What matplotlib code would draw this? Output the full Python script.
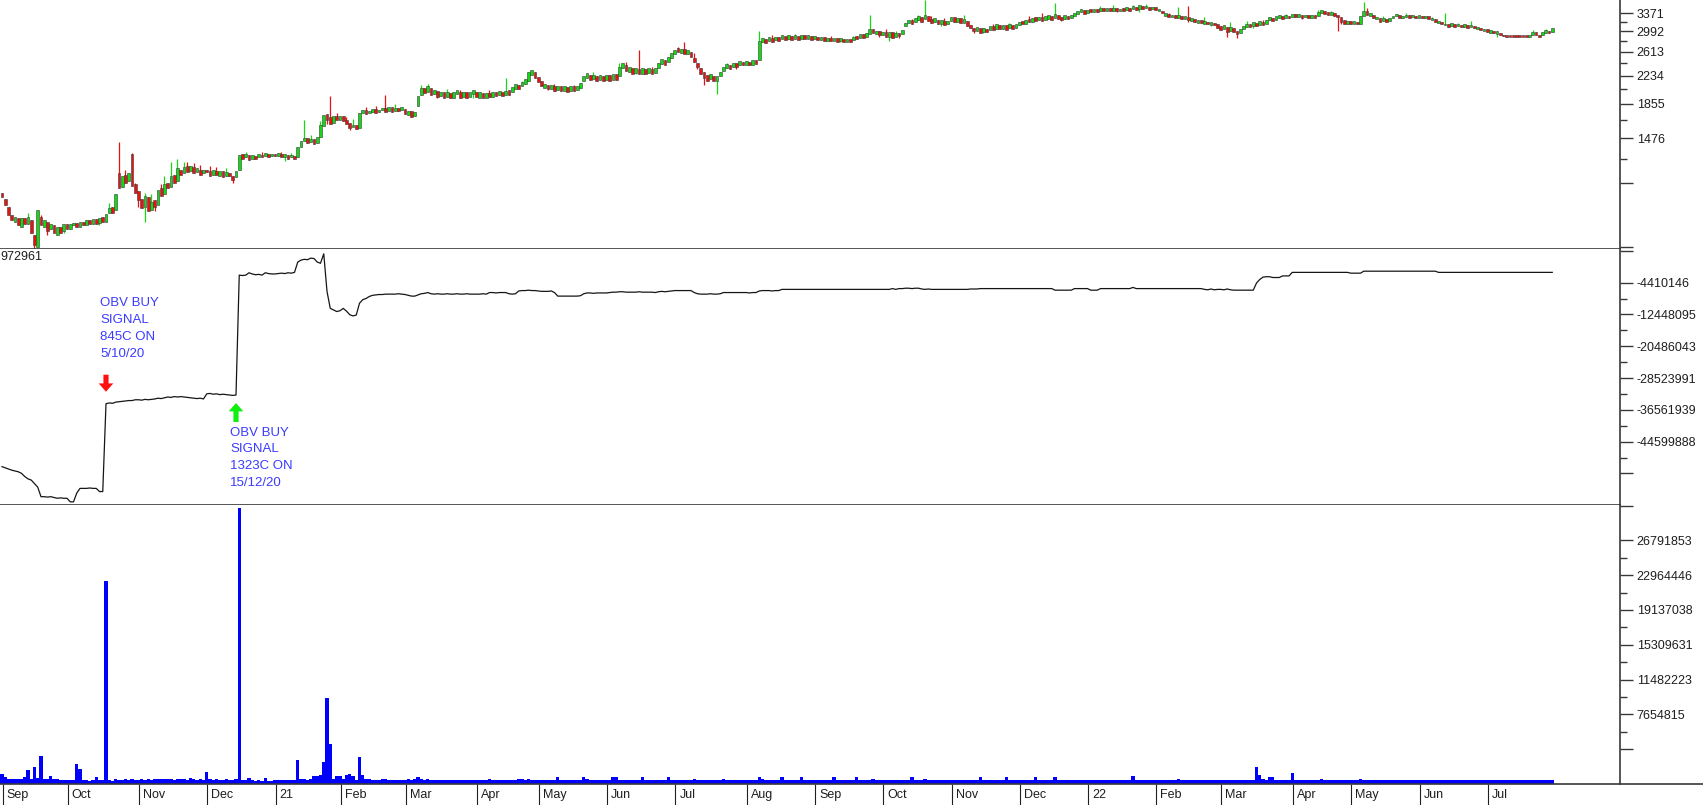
import numpy as np
import matplotlib
matplotlib.use("Agg")
import matplotlib.pyplot as plt
from matplotlib.lines import Line2D
from matplotlib.ticker import FixedLocator, FixedFormatter, NullFormatter
from matplotlib.transforms import blended_transform_factory

plt.rcParams['font.family'] = ['Liberation Sans', 'DejaVu Sans']

# ---------------- data ----------------
month_labels = ['Sep', 'Oct', 'Nov', 'Dec', '21', 'Feb', 'Mar', 'Apr', 'May', 'Jun', 'Jul', 'Aug',
                'Sep', 'Oct', 'Nov', 'Dec', '22', 'Feb', 'Mar', 'Apr', 'May', 'Jun', 'Jul']
days_in_month = [20, 22, 21, 21, 20, 20, 22, 19, 21, 21, 22, 21, 21, 21, 21, 21, 21, 20, 22, 18, 21, 21, 21]

close = [
    1000, 950, 890, 860, 880, 830, 870, 840, 880, 790, 730, 920, 830, 860, 800, 840, 790, 820, 790, 840,
    810, 840, 845, 820, 850, 830, 860, 835, 865, 840, 870, 850, 895, 930, 900, 1020, 1060, 1150, 1100, 1170, 1080, 1030,
    980, 930, 1010, 910, 970, 940, 1050, 1010, 1090, 1060, 1150, 1100, 1210, 1160, 1220, 1180, 1230, 1170, 1210, 1160, 1200,
    1180, 1150, 1200, 1160, 1190, 1140, 1180, 1150, 1120, 1190, 1323, 1290, 1330, 1280, 1320, 1290, 1330, 1300, 1340, 1300, 1330,
    1310, 1340, 1300, 1330, 1290, 1320, 1290, 1390, 1450, 1480, 1430, 1470, 1420, 1490, 1610, 1720, 1660, 1620, 1710, 1670,
    1710, 1650, 1620, 1580, 1610, 1570, 1740, 1780, 1730, 1770, 1790, 1740, 1780, 1800, 1760, 1810, 1760, 1800, 1770, 1810,
    1730, 1770, 1700, 1750, 1950, 2060, 1990, 2080, 1970, 2030, 1940, 2010, 1930, 2000, 1920, 2000, 2030, 1930, 2010, 1920, 2000, 2030,
    1940, 2000, 1930, 1990, 1940, 2000, 1950, 2020, 1950, 2020, 1970, 2070, 2110, 2040, 2140, 2180, 2280, 2320, 2200,
    2140, 2090, 2110, 2040, 2100, 2020, 2080, 2020, 2080, 2010, 2080, 2020, 2090, 2120, 2230, 2270, 2170, 2240, 2160, 2240, 2160,
    2240, 2160, 2250, 2170, 2370, 2420, 2300, 2360, 2260, 2350, 2250, 2340, 2250, 2350, 2250, 2340, 2430, 2490, 2400, 2520, 2600,
    2650, 2610, 2660, 2580, 2640, 2520, 2440, 2360, 2260, 2200, 2160, 2250, 2150, 2230, 2290, 2370, 2410, 2330, 2430, 2370, 2460, 2390,
    2460, 2390, 2470, 2410, 2800, 2860, 2770, 2880, 2790, 2890, 2810, 2910, 2830, 2920, 2830, 2910, 2830, 2920, 2840, 2910, 2830,
    2900, 2820, 2880, 2810, 2870, 2800, 2870, 2790, 2860, 2780, 2850, 2790, 2890, 2850, 2930, 2860, 2950, 3040, 2950, 3000, 2910,
    2980, 2890, 2970, 2870, 2960, 2900, 3010, 3170, 3230, 3140, 3270, 3300, 3190, 3330, 3200, 3170, 3260, 3150, 3230, 3120, 3210,
    3290, 3180, 3270, 3160, 3240, 3100, 3050, 2990, 3070, 2960, 3060, 2970, 3100, 3010, 3130, 3030, 3120, 3020, 3140, 3040, 3140,
    3190, 3140, 3230, 3180, 3270, 3210, 3290, 3200, 3300, 3330, 3230, 3350, 3240, 3220, 3330, 3250, 3340, 3370, 3430, 3460, 3350,
    3450, 3400, 3470, 3400, 3490, 3410, 3490, 3430, 3480, 3420, 3470, 3420, 3510, 3430, 3540, 3450, 3550, 3460, 3540, 3450, 3520,
    3440, 3470, 3370, 3380, 3290, 3340, 3270, 3330, 3250, 3310, 3230, 3260, 3190, 3230, 3170, 3200, 3130, 3180, 3110, 3060,
    3020, 3110, 2970, 3080, 2980, 2940, 3040, 3100, 3150, 3070, 3180, 3100, 3200, 3120, 3230, 3280, 3210, 3310, 3330, 3250, 3340, 3260,
    3360, 3280, 3350, 3270, 3340, 3260, 3330, 3270, 3400, 3450, 3360, 3330, 3400, 3310, 3280, 3190, 3150, 3210,
    3140, 3200, 3130, 3320, 3420, 3340, 3370, 3260, 3280, 3190, 3260, 3180, 3270, 3310, 3350, 3270, 3310, 3340, 3270, 3340, 3270,
    3330, 3260, 3320, 3240, 3270, 3180, 3200, 3130, 3150, 3080, 3160, 3080, 3140, 3070, 3130, 3060, 3120, 3060, 3080, 3020, 3030,
    2970, 3010, 2950, 2990, 2920, 2900, 2890, 2890, 2890, 2890, 2890, 2890, 2890, 2900, 2980, 2910, 2890, 2970, 3010, 2950, 3050,
]

open_ = [
    1030, 990, 940, 890, 850, 870, 820, 870, 840, 860, 780, 720, 880, 820, 850, 810, 830, 780, 820, 800,
    840, 810, 830, 845, 820, 850, 830, 860, 835, 865, 845, 875, 850, 900, 940, 920, 1170, 1070, 1160, 1110, 1330, 1090,
    1040, 990, 940, 1000, 920, 980, 950, 1060, 1020, 1100, 1070, 1160, 1110, 1200, 1170, 1230, 1190, 1220, 1180, 1200, 1170,
    1200, 1190, 1160, 1190, 1150, 1190, 1150, 1170, 1150, 1140, 1200, 1330, 1300, 1320, 1290, 1310, 1300, 1320, 1310, 1330, 1310,
    1330, 1310, 1330, 1300, 1320, 1300, 1310, 1300, 1390, 1450, 1480, 1440, 1470, 1430, 1490, 1600, 1730, 1700, 1630, 1710,
    1670, 1710, 1660, 1630, 1590, 1610, 1580, 1740, 1780, 1740, 1760, 1790, 1750, 1780, 1800, 1770, 1810, 1770, 1800, 1780,
    1790, 1720, 1770, 1710, 1830, 1960, 2060, 2000, 2060, 1980, 2020, 1950, 2000, 1940, 1990, 1930, 1980, 2010, 1940, 2000, 1940, 1980,
    2010, 1930, 1990, 1930, 1990, 1940, 2000, 1960, 2010, 1960, 2030, 2010, 2050, 2100, 2080, 2110, 2160, 2240, 2290,
    2210, 2150, 2060, 2100, 2040, 2080, 2030, 2080, 2020, 2070, 2020, 2080, 2030, 2060, 2150, 2200, 2240, 2180, 2230, 2170, 2230,
    2170, 2240, 2170, 2250, 2220, 2340, 2390, 2290, 2340, 2270, 2330, 2260, 2330, 2270, 2330, 2270, 2350, 2410, 2480, 2440, 2500,
    2570, 2680, 2590, 2660, 2580, 2610, 2510, 2430, 2350, 2280, 2240, 2180, 2220, 2160, 2220, 2300, 2350, 2400, 2360, 2430, 2390, 2450,
    2400, 2450, 2400, 2470, 2470, 2780, 2850, 2810, 2870, 2820, 2880, 2840, 2900, 2850, 2900, 2850, 2900, 2850, 2910, 2850, 2900,
    2840, 2890, 2820, 2880, 2810, 2870, 2800, 2860, 2800, 2850, 2790, 2840, 2820, 2900, 2870, 2930, 2880, 2940, 3030, 2940, 2990,
    2910, 2980, 2890, 2970, 2880, 2960, 2940, 3090, 3160, 3220, 3190, 3220, 3280, 3250, 3300, 3240, 3180, 3220, 3150, 3210, 3140,
    3200, 3280, 3190, 3260, 3170, 3200, 3120, 3060, 3000, 3050, 2980, 3040, 3010, 3090, 3040, 3120, 3040, 3110, 3050, 3120, 3050,
    3110, 3210, 3150, 3250, 3190, 3290, 3220, 3280, 3220, 3250, 3310, 3260, 3330, 3290, 3250, 3320, 3270, 3310, 3360, 3390, 3440,
    3370, 3470, 3400, 3470, 3420, 3480, 3420, 3500, 3420, 3490, 3410, 3490, 3440, 3500, 3460, 3520, 3470, 3540, 3480, 3510, 3460,
    3510, 3420, 3430, 3320, 3350, 3280, 3330, 3270, 3310, 3250, 3290, 3200, 3250, 3170, 3230, 3140, 3190, 3120, 3170, 3140,
    3100, 3030, 3070, 2990, 3060, 3000, 2960, 3030, 3080, 3140, 3100, 3160, 3120, 3180, 3150, 3220, 3270, 3230, 3270, 3310, 3260, 3320,
    3280, 3350, 3280, 3340, 3280, 3330, 3270, 3330, 3300, 3380, 3430, 3390, 3340, 3380, 3330, 3290, 3220, 3150,
    3200, 3140, 3190, 3150, 3320, 3410, 3320, 3340, 3250, 3270, 3200, 3250, 3200, 3260, 3300, 3340, 3260, 3290, 3330, 3280, 3320,
    3270, 3320, 3260, 3300, 3230, 3240, 3160, 3190, 3110, 3140, 3100, 3130, 3090, 3120, 3080, 3110, 3070, 3100, 3040, 3060, 2990,
    3030, 2960, 3000, 2940, 2960, 2920, 2900, 2890, 2890, 2890, 2890, 2890, 2890, 2890, 2920, 2970, 2910, 2910, 2950, 3000, 2980,
]

# visible wick extremes (day index: price)
high_wicks = {8: 900, 12: 890, 33: 960, 36: 1440, 38: 1200, 40: 1340, 41: 1100, 44: 1030, 46: 1020, 49: 1090,
              50: 1150, 52: 1260, 54: 1290, 56: 1260, 57: 1260, 59: 1250, 61: 1240, 64: 1230, 66: 1220, 69: 1210,
              75: 1350, 80: 1350, 86: 1350, 89: 1340, 93: 1660, 95: 1510, 98: 1650, 101: 1950, 103: 1740,
              106: 1700, 108: 1680, 112: 1820, 115: 1830, 118: 1970, 121: 1850, 129: 2100, 131: 2110, 137: 2040,
              141: 2030, 150: 2030, 155: 2200, 160: 2150, 170: 2110, 176: 2100, 182: 2280, 190: 2420, 192: 2440,
              196: 2640, 200: 2360, 205: 2520, 208: 2700, 210: 2780, 213: 2600, 223: 2430, 233: 3000, 237: 2910,
              244: 2940, 255: 2900, 262: 2900, 267: 3340, 272: 3040, 275: 2990, 280: 3250, 282: 3330, 284: 3680,
              286: 3320, 290: 3260, 296: 3340, 300: 3080, 305: 3150, 310: 3170, 316: 3300, 320: 3380, 324: 3600,
              330: 3380, 338: 3530, 342: 3550, 348: 3560, 352: 3580, 359: 3380, 362: 3520, 365: 3530, 370: 3280,
              378: 3180, 383: 3200, 388: 3220, 395: 3360, 405: 3450, 409: 3430, 419: 3620, 420: 3500, 425: 3300,
              432: 3370, 440: 3280, 444: 3370, 448: 3170, 452: 3200, 471: 3020, 475: 3040}
low_wicks = {10: 700, 14: 780, 19: 790, 30: 830, 42: 940, 44: 850, 47: 910, 71: 1100, 87: 1270, 100: 1620,
             107: 1560, 134: 1930, 145: 1930, 168: 2030, 174: 2010, 195: 2250, 214: 2330, 216: 2100, 220: 1980,
             226: 2330, 239: 2800, 258: 2780, 270: 2880, 273: 2800, 276: 2860, 289: 3100, 299: 2960, 302: 2950,
             326: 3200, 343: 3390, 350: 3400, 365: 3180, 372: 3100, 377: 2880, 380: 2870, 385: 3060, 400: 3250,
             411: 3000, 412: 3150, 424: 3180, 445: 3080, 460: 2890}

# daily volume, millions
volume_m = [
    1.1, 0.8, 0.6, 0.5, 0.5, 0.6, 0.5, 0.8, 1.5, 0.6, 1.9, 0.7, 3.1, 0.5, 0.5, 0.9, 0.5, 0.5, 0.4, 0.4,
    0.4, 0.4, 0.4, 2.2, 1.6, 0.4, 0.4, 0.3, 0.4, 0.8, 0.4, 0.4, 22.3, 0.4, 0.3, 0.5, 0.4, 0.4, 0.5, 0.4, 0.5, 0.4,
    0.4, 0.5, 0.4, 0.6, 0.4, 0.5, 0.5, 0.6, 0.5, 0.6, 0.5, 0.4, 0.5, 0.6, 0.5, 0.4, 0.7, 0.5, 0.4, 0.5, 0.4,
    1.3, 0.5, 0.4, 0.5, 0.4, 0.4, 0.5, 0.4, 0.4, 0.5, 30.4, 0.4, 0.4, 0.7, 0.4, 0.3, 0.4, 0.3, 0.7, 0.3, 0.3,
    0.4, 0.4, 0.4, 0.4, 0.4, 0.4, 0.4, 2.6, 0.5, 0.6, 0.4, 0.5, 0.9, 0.9, 1.0, 2.4, 9.5, 4.4, 0.6, 0.9,
    0.9, 0.6, 1.0, 1.1, 0.9, 0.4, 3.0, 1.0, 0.5, 0.5, 0.4, 0.4, 0.4, 0.5, 0.6, 0.4, 0.4, 0.4, 0.4, 0.4,
    0.4, 0.5, 0.4, 0.5, 0.8, 0.6, 0.4, 0.5, 0.4, 0.4, 0.4, 0.4, 0.4, 0.4, 0.4, 0.4, 0.4, 0.4, 0.4, 0.4, 0.4, 0.4,
    0.4, 0.4, 0.4, 0.4, 0.5, 0.4, 0.4, 0.4, 0.4, 0.4, 0.4, 0.4, 0.4, 0.5, 0.6, 0.4, 0.5, 0.4, 0.4,
    0.4, 0.4, 0.4, 0.4, 0.4, 0.4, 0.8, 0.4, 0.4, 0.4, 0.4, 0.4, 0.4, 0.4, 0.8, 0.6, 0.4, 0.4, 0.4, 0.4, 0.4,
    0.4, 0.4, 0.8, 0.8, 0.4, 0.4, 0.4, 0.4, 0.4, 0.4, 0.4, 0.8, 0.4, 0.4, 0.4, 0.4, 0.4, 0.4, 0.4, 0.8, 0.4,
    0.4, 0.4, 0.4, 0.4, 0.4, 0.4, 0.5, 0.4, 0.4, 0.4, 0.4, 0.4, 0.4, 0.4, 0.4, 0.5, 0.4, 0.4, 0.4, 0.4, 0.4, 0.4,
    0.4, 0.4, 0.4, 0.4, 0.8, 0.5, 0.4, 0.4, 0.4, 0.4, 0.4, 0.8, 0.4, 0.4, 0.4, 0.4, 0.4, 0.8, 0.4, 0.4, 0.4,
    0.4, 0.4, 0.4, 0.4, 0.4, 0.4, 0.8, 0.4, 0.4, 0.4, 0.4, 0.4, 0.4, 0.8, 0.4, 0.4, 0.4, 0.4, 0.5, 0.4, 0.4,
    0.4, 0.4, 0.4, 0.4, 0.4, 0.4, 0.4, 0.4, 0.4, 0.8, 0.4, 0.4, 0.4, 0.6, 0.4, 0.4, 0.4, 0.4, 0.4, 0.4, 0.4,
    0.4, 0.4, 0.4, 0.4, 0.4, 0.4, 0.4, 0.4, 0.4, 0.8, 0.4, 0.4, 0.4, 0.4, 0.4, 0.4, 0.4, 0.8, 0.4, 0.4, 0.4,
    0.4, 0.4, 0.4, 0.4, 0.4, 0.8, 0.4, 0.4, 0.4, 0.4, 0.4, 0.8, 0.4, 0.4, 0.4, 0.4, 0.4, 0.4, 0.4, 0.4, 0.4,
    0.4, 0.4, 0.4, 0.4, 0.4, 0.4, 0.4, 0.4, 0.4, 0.4, 0.4, 0.4, 0.4, 0.4, 0.9, 0.4, 0.4, 0.4, 0.4, 0.4, 0.4,
    0.4, 0.4, 0.4, 0.4, 0.4, 0.4, 0.4, 0.6, 0.4, 0.4, 0.4, 0.4, 0.4, 0.4, 0.4, 0.4, 0.4, 0.4, 0.4, 0.4,
    0.4, 0.4, 0.4, 0.4, 0.4, 0.4, 0.4, 0.4, 0.4, 0.4, 0.4, 1.9, 1.0, 0.5, 0.4, 0.8, 0.8, 0.4, 0.4, 0.4, 0.4, 0.4,
    1.2, 0.4, 0.4, 0.4, 0.4, 0.4, 0.4, 0.4, 0.4, 0.5, 0.4, 0.4, 0.4, 0.4, 0.4, 0.4, 0.4, 0.4,
    0.4, 0.4, 0.4, 0.5, 0.4, 0.4, 0.4, 0.4, 0.4, 0.4, 0.4, 0.4, 0.4, 0.4, 0.4, 0.4, 0.4, 0.4, 0.4, 0.4, 0.4,
    0.4, 0.4, 0.4, 0.4, 0.4, 0.4, 0.4, 0.4, 0.4, 0.4, 0.4, 0.4, 0.4, 0.4, 0.4, 0.4, 0.4, 0.4, 0.4, 0.4, 0.4,
    0.4, 0.4, 0.4, 0.4, 0.4, 0.4, 0.4, 0.4, 0.4, 0.4, 0.4, 0.4, 0.4, 0.4, 0.4, 0.4, 0.4, 0.4, 0.4, 0.4, 0.4,
]

# on-balance volume, millions
obv_m = [
    -50.9, -51.2, -51.5, -51.8, -52.0, -52.2, -52.6, -53.4, -54.0, -54.3, -55.2, -56.1, -58.5, -58.5, -58.6, -58.5, -58.7, -58.9, -58.8, -58.9,
    -58.9, -59.8, -59.8, -57.6, -56.4, -56.4, -56.4, -56.3, -56.4, -56.4, -57.2, -57.2, -35.0, -34.8, -34.9, -34.6, -34.5, -34.4, -34.3, -34.2, -34.2, -34.0,
    -34.0, -34.1, -33.9, -34.0, -33.9, -33.8, -33.6, -33.7, -33.5, -33.3, -33.4, -33.2, -33.3, -33.2, -33.3, -33.4, -33.5, -33.6, -33.7, -33.6, -33.8,
    -32.5, -32.4, -32.6, -32.5, -32.7, -32.6, -32.7, -32.8, -32.9, -32.8, -2.5, -2.6, -2.5, -1.9, -2.2, -2.4, -2.3, -2.5, -1.9, -2.1, -2.2,
    -2.2, -2.1, -2.0, -2.1, -1.9, -2.0, -1.8, 0.8, 1.3, 1.5, 1.4, 1.8, 1.7, 0.8, 0.5, 2.9, -6.6, -10.9, -11.3, -11.7,
    -11.5, -10.9, -11.6, -12.5, -12.8, -12.6, -9.6, -8.7, -8.4, -7.9, -7.6, -7.5, -7.4, -7.4, -7.3, -7.3, -7.3, -7.3, -7.2, -7.3,
    -7.4, -7.6, -7.8, -7.8, -7.5, -7.2, -7.1, -6.9, -7.2, -7.3, -7.2, -7.3, -7.3, -7.2, -7.3, -7.3, -7.2, -7.3, -7.3, -7.2, -7.3, -7.3,
    -7.3, -7.3, -7.2, -7.3, -6.9, -6.9, -7.0, -6.9, -6.9, -6.9, -7.2, -7.3, -7.2, -6.5, -6.4, -6.4, -6.3, -6.4, -6.4,
    -6.5, -6.6, -6.6, -6.6, -6.5, -6.9, -7.8, -7.8, -7.8, -7.8, -7.8, -7.8, -7.8, -7.7, -7.2, -7.0, -7.0, -7.1, -7.0, -7.0, -7.0,
    -7.0, -6.9, -6.8, -6.8, -6.7, -6.7, -6.8, -6.8, -6.8, -6.8, -6.7, -6.8, -6.8, -6.8, -6.8, -6.9, -6.7, -6.6, -6.7, -6.6, -6.5,
    -6.4, -6.4, -6.4, -6.4, -6.4, -6.4, -6.9, -7.2, -7.3, -7.3, -7.3, -7.2, -7.3, -7.3, -7.2, -6.9, -6.9, -6.9, -6.9, -6.9, -6.9, -6.9,
    -6.9, -7.0, -6.9, -6.9, -6.5, -6.4, -6.4, -6.4, -6.5, -6.4, -6.4, -6.1, -6.1, -6.1, -6.1, -6.1, -6.1, -6.1, -6.1, -6.1, -6.1,
    -6.1, -6.1, -6.1, -6.1, -6.1, -6.1, -6.1, -6.1, -6.1, -6.1, -6.1, -6.1, -6.1, -6.1, -6.1, -6.1, -6.1, -6.1, -6.1, -6.1, -6.1,
    -6.1, -6.1, -6.1, -5.9, -6.1, -5.9, -5.9, -5.8, -5.8, -5.9, -5.8, -5.8, -6.0, -6.1, -6.0, -6.1, -6.1, -6.1, -6.1, -6.1, -6.1,
    -6.1, -6.1, -6.1, -6.1, -6.1, -6.1, -6.0, -6.0, -6.0, -5.9, -5.9, -5.9, -5.9, -5.9, -5.9, -5.9, -5.9, -5.9, -5.9, -5.9, -5.9,
    -5.9, -5.9, -5.9, -5.9, -5.9, -5.9, -5.9, -5.9, -5.9, -5.9, -5.9, -6.3, -6.3, -6.3, -6.3, -6.3, -6.3, -5.9, -5.9, -5.9, -5.9,
    -5.9, -6.3, -6.3, -6.3, -5.9, -5.9, -5.9, -5.9, -5.9, -5.9, -5.9, -5.9, -5.9, -5.9, -5.6, -5.9, -5.9, -5.9, -5.9, -5.9, -5.9,
    -5.9, -5.9, -5.9, -5.9, -5.9, -5.9, -5.9, -5.9, -5.9, -5.9, -5.9, -5.9, -5.9, -5.9, -5.9, -6.1, -6.2, -6.0, -6.2, -6.1,
    -6.1, -6.2, -6.0, -6.2, -6.3, -6.3, -6.3, -6.3, -6.3, -6.3, -6.3, -4.5, -3.6, -3.0, -2.9, -2.9, -3.1, -3.1, -3.1, -2.7, -2.7, -2.7,
    -1.8, -1.8, -1.8, -1.8, -1.8, -1.8, -1.8, -1.8, -1.8, -1.8, -1.8, -1.8, -1.8, -1.8, -1.8, -1.8, -1.8, -1.8,
    -2.0, -2.0, -2.0, -2.0, -1.5, -1.5, -1.5, -1.5, -1.5, -1.5, -1.5, -1.5, -1.5, -1.5, -1.5, -1.5, -1.5, -1.5, -1.5, -1.5, -1.5,
    -1.5, -1.5, -1.5, -1.5, -1.5, -1.5, -1.8, -1.8, -1.8, -1.8, -1.8, -1.8, -1.8, -1.8, -1.8, -1.8, -1.8, -1.8, -1.8, -1.8, -1.8,
    -1.8, -1.8, -1.8, -1.8, -1.8, -1.8, -1.8, -1.8, -1.8, -1.8, -1.8, -1.8, -1.8, -1.8, -1.8, -1.8, -1.8, -1.8, -1.8, -1.8, -1.8,
]

price_ticks = [3371, 2992, 2613, 2234, 1855, 1476, 1097, 718]
price_tick_labels = ['3371', '2992', '2613', '2234', '1855', '1476', '', '']
price_minor = [3181.5, 2802.5, 2423.5, 2044.5, 1665.5, 1286.5]
obv_ticks = [3627802, -4410146, -12448095, -20486043, -28523991, -36561939, -44599888, -52637836]
obv_tick_labels = ['', '-4410146', '-12448095', '-20486043', '-28523991', '-36561939', '-44599888', '']
obv_minor = [-8429120, -16467069, -24505017, -32542965, -40580913, -48618862]
vol_ticks = [3827407, 7654815, 11482223, 15309631, 19137038, 22964446, 26791853, 30619260]
vol_tick_labels = ['', '7654815', '11482223', '15309631', '19137038', '22964446', '26791853', '']
vol_minor = [5741111, 9568519, 13395927, 17223334, 21050742, 24878150]

corner_label = '972961'
signal_text_1 = 'OBV BUY\nSIGNAL\n845C ON\n5/10/20'
signal_text_2 = 'OBV BUY\nSIGNAL\n1323C ON\n15/12/20'

# ---------------- figure ----------------
W, H = 1703, 805
fig = plt.figure(figsize=(W / 100, H / 100), dpi=100)
fig.patch.set_facecolor('white')


def fy(py):
    return 1 - py / H


RIGHT = 1620 / W
ax1 = fig.add_axes([0, fy(249), RIGHT, 249 / H])
ax2 = fig.add_axes([0, fy(505), RIGHT, (505 - 249) / H])
ax3 = fig.add_axes([0, fy(784), RIGHT, (784 - 505) / H])

N = len(close)
x = np.arange(N)
PX = 3.25  # pixels per trading day
XL = (-2 / PX, (1620 - 2) / PX)

GREEN = '#14d814'
RED = '#e81212'
AXC = '#383838'
TXT = '#1e1e1e'

# --- candles
o = np.array(open_, float)
c = np.array(close, float)
hi = np.maximum(o, c)
lo = np.minimum(o, c)
for k, v in high_wicks.items():
    hi[k] = max(hi[k], v)
for k, v in low_wicks.items():
    lo[k] = min(lo[k], v)
col = np.where(c > o, GREEN, RED)
ax1.vlines(x, lo, hi, colors=col, linewidth=0.9, zorder=2)
body_lo = np.minimum(o, c)
body_h = np.maximum(np.abs(c - o), body_lo * 0.007)
ax1.bar(x, body_h, bottom=body_lo, width=0.85, color=col, edgecolor='#3c3c3c', linewidth=0.4, zorder=3)
ax1.set_yscale('log')
ax1.set_ylim(710.2, 3679)

# --- OBV
obv = np.array(obv_m) * 1e6
ax2.plot(x, obv, color='#151515', linewidth=0.9)
ax2.set_ylim(-60.60e6, 4.108e6)

# --- volume
vol = np.array(volume_m) * 1e6
ax3.bar(x, vol, width=1.0, color='#0000ff', linewidth=0)
ax3.set_ylim(0, 30.685e6)


def style(ax, major, labels, minor):
    ax.set_xlim(*XL)
    ax.set_facecolor('white')
    for s in ['left', 'top']:
        ax.spines[s].set_visible(False)
    ax.spines['right'].set_color(AXC)
    ax.spines['right'].set_linewidth(1.2)
    ax.spines['bottom'].set_color(AXC)
    ax.spines['bottom'].set_linewidth(1.2)
    ax.yaxis.set_major_locator(FixedLocator(major))
    ax.yaxis.set_major_formatter(FixedFormatter(labels))
    ax.yaxis.set_minor_locator(FixedLocator(minor))
    ax.yaxis.set_minor_formatter(NullFormatter())
    ax.tick_params(axis='y', which='both', left=False, labelleft=False, right=True, labelright=True,
                   direction='out', color=AXC, width=1.0)
    ax.tick_params(axis='y', which='major', length=9.6, pad=2.5, labelsize=9, labelcolor=TXT)
    ax.tick_params(axis='y', which='minor', length=5.3)
    ax.tick_params(axis='x', which='both', bottom=False, labelbottom=False, top=False)


style(ax1, price_ticks, price_tick_labels, price_minor)
style(ax2, obv_ticks, obv_tick_labels, obv_minor)
style(ax3, vol_ticks, vol_tick_labels, vol_minor)
ax3.spines['bottom'].set_visible(False)

# bottom line across the whole width
fig.add_artist(Line2D([0, 1], [fy(784), fy(784)], color=AXC, linewidth=1.2))

# month separators and labels
starts = np.concatenate([[0], np.cumsum(days_in_month)[:-1]]) + 0.2
ax3.set_xticks(starts)
ax3.tick_params(axis='x', which='major', bottom=True, direction='out', length=15, width=0.8, color='#202020')
trans = blended_transform_factory(ax3.transData, fig.transFigure)
for s, lab in zip(starts, month_labels):
    ax3.text(s + 4 / PX, fy(795), lab, transform=trans, fontsize=9, color=TXT,
             ha='left', va='center', clip_on=False)

fig.text(0.0, fy(257), corner_label, fontsize=9, color=TXT, ha='left', va='center')

# signal annotations (anchored at the two largest OBV jumps)
jumps = np.diff(obv)
j1, j2 = sorted(np.argsort(jumps)[-2:])
s1 = j1 + 1      # after first jump
s2 = j2          # just before second jump
P = 0.72         # points per pixel
BLUE = '#3b3bff'

ax2.annotate(signal_text_1, xy=(s1, obv[s1]), xytext=(-6 * P, 107 * P), textcoords='offset points',
             ha='left', va='top', fontsize=9.5, color=BLUE, linespacing=1.55, annotation_clip=False)
ax2.annotate('', xy=(s1, obv[s1]), xytext=(0, 29 * P), textcoords='offset points',
             arrowprops=dict(arrowstyle='simple,head_length=0.6,head_width=1.05,tail_width=0.37',
                             fc='#ff1010', ec='none', shrinkA=0, shrinkB=12 * P, mutation_scale=10))
ax2.annotate(signal_text_2, xy=(s2, obv[s2]), xytext=(-6 * P, -31.5 * P), textcoords='offset points',
             ha='left', va='top', fontsize=9.5, color=BLUE, linespacing=1.55, annotation_clip=False)
ax2.annotate('', xy=(s2, obv[s2]), xytext=(0, -27 * P), textcoords='offset points',
             arrowprops=dict(arrowstyle='simple,head_length=0.6,head_width=1.05,tail_width=0.37',
                             fc='#10f010', ec='none', shrinkA=0, shrinkB=8 * P, mutation_scale=10))

fig.savefig('out.png', dpi=100, facecolor='white')
